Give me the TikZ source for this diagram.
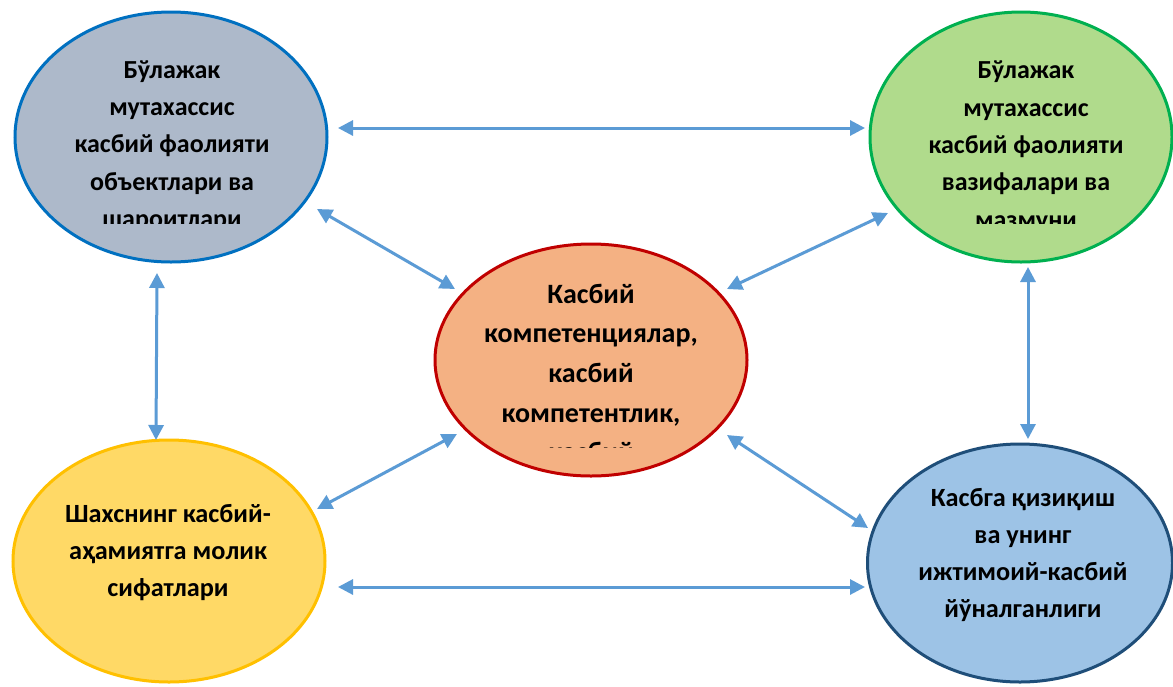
\documentclass[tikz,border=0pt]{standalone}
\usepackage{fontspec}
\setmainfont{Carlito}
\usetikzlibrary{shapes.geometric,arrows.meta}
\definecolor{tlfill}{HTML}{ADB9CA}
\definecolor{tlline}{HTML}{0070C0}
\definecolor{trfill}{HTML}{B0DB8C}
\definecolor{trline}{HTML}{00B050}
\definecolor{cfill}{HTML}{F4B183}
\definecolor{cline}{HTML}{C00000}
\definecolor{blfill}{HTML}{FFD966}
\definecolor{blline}{HTML}{FFC000}
\definecolor{brfill}{HTML}{9DC3E6}
\definecolor{brline}{HTML}{1F4E79}
\definecolor{arrc}{HTML}{5B9BD5}
\begin{document}
\begin{tikzpicture}[x=1pt,y=-1pt,
  ov/.style={ellipse, draw, line width=3pt, inner sep=0pt},
  txt/.style={font=\bfseries\fontsize{26}{37.4}\selectfont, align=center, inner sep=0pt, anchor=base},
  arr/.style={{Triangle[length=15pt,width=15pt]}-{Triangle[length=15pt,width=15pt]}, line width=3pt, draw=arrc}]
\useasboundingbox (0,0) rectangle (1173,686);
\fill[white] (0,0) rectangle (1173,686);
% ellipses
\node[ov, fill=tlfill, draw=tlline, minimum width=312pt, minimum height=250pt] (tl) at (171,137) {};
\node[ov, fill=trfill, draw=trline, minimum width=302pt, minimum height=250pt] (tr) at (1021,137) {};
\node[ov, fill=cfill, draw=cline, minimum width=312pt, minimum height=232pt] (c) at (591,360) {};
\node[ov, fill=blfill, draw=blline, minimum width=312pt, minimum height=242pt] (bl) at (169,561) {};
\node[ov, fill=brfill, draw=brline, minimum width=305pt, minimum height=238pt] (br) at (1020,563) {};
% texts (anchor base = baseline of the last line)
\begin{scope}
\clip (0,0) rectangle (1173,223);
\node[txt] (tltext) at (172,227.6) {Бўлажак\\мутахассис\\касбий фаолияти\\объектлари ва\\шароитлари};
\node[txt] (trtext) at (1026,228.2) {Бўлажак\\мутахассис\\касбий фаолияти\\вазифалари ва\\мазмуни};
\end{scope}
\begin{scope}
\clip (0,240) rectangle (1173,447);
\node[txt, font=\bfseries\fontsize{28}{39.7}\selectfont] (ctext) at (591,461.8) {Касбий\\компетенциялар,\\касбий\\компетентлик,\\касбий};
\end{scope}
\node[txt, font=\bfseries\fontsize{26.3}{37}\selectfont] (bltext) at (168,596) {Шахснинг касбий-\\аҳамиятга молик\\сифатлари};
\node[txt, font=\bfseries\fontsize{26.3}{36.7}\selectfont] (brtext) at (1023,617) {Касбга қизиқиш\\ва унинг\\ижтимоий-касбий\\йўналганлиги};
% arrow endpoints
\coordinate (p1a) at (338,128); \coordinate (p1b) at (865,128);
\coordinate (p2a) at (317,209); \coordinate (p2b) at (455,289);
\coordinate (p3a) at (888,213); \coordinate (p3b) at (727,289);
\coordinate (p4a) at (157,273); \coordinate (p4b) at (156,440);
\coordinate (p5a) at (1028,267); \coordinate (p5b) at (1028,439);
\coordinate (p6a) at (457,434); \coordinate (p6b) at (317,509);
\coordinate (p7a) at (727,435); \coordinate (p7b) at (868,528);
\coordinate (p8a) at (338,587); \coordinate (p8b) at (865,587);
\draw[arr] (p1a) -- (p1b);
\draw[arr] (p2a) -- (p2b);
\draw[arr] (p3a) -- (p3b);
\draw[arr] (p4a) -- (p4b);
\draw[arr] (p5a) -- (p5b);
\draw[arr] (p6a) -- (p6b);
\draw[arr] (p7a) -- (p7b);
\draw[arr] (p8a) -- (p8b);
\end{tikzpicture}
\end{document}
